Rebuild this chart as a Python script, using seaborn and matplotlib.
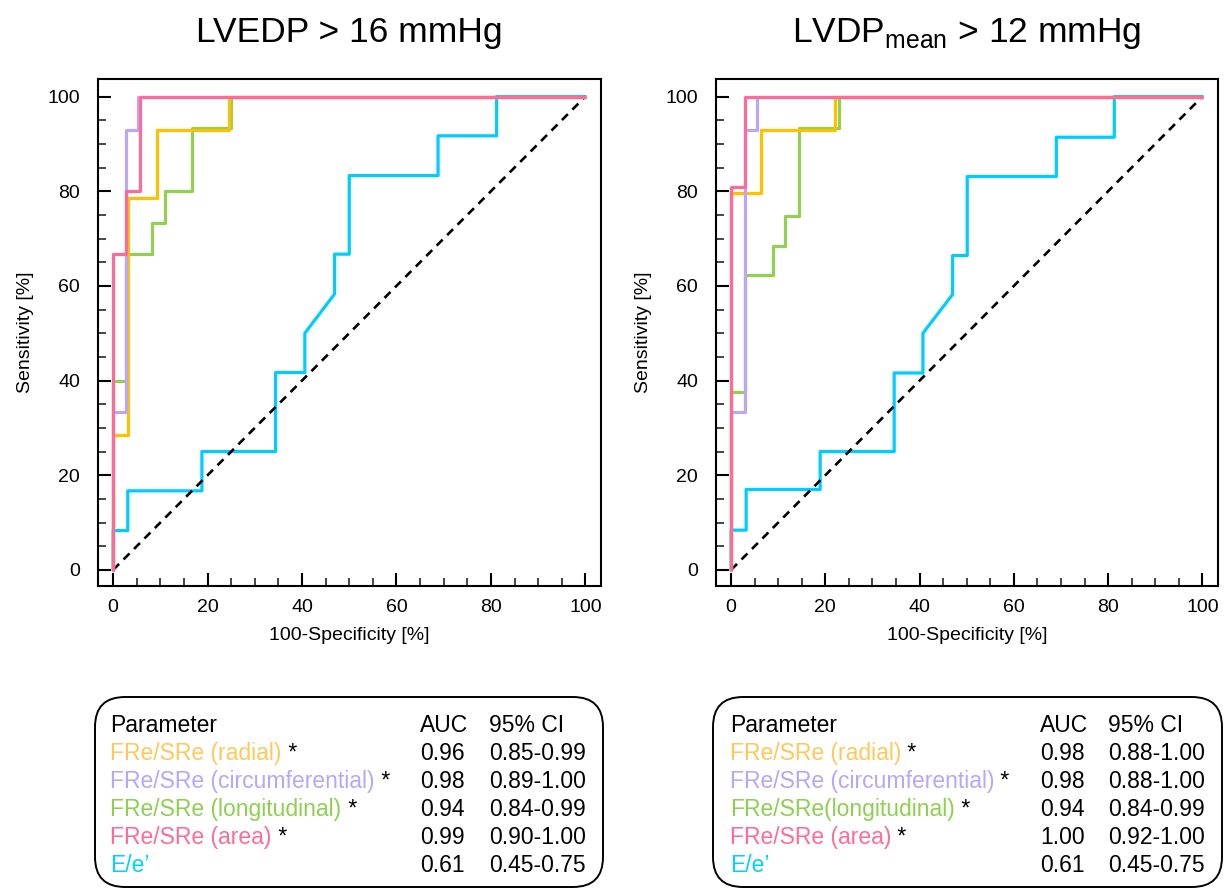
import matplotlib
matplotlib.use("Agg")
import matplotlib.pyplot as plt
import seaborn as sns
from matplotlib.patches import FancyBboxPatch

# ---------------- data ----------------
titles = ["LVEDP > 16 mmHg", r"LVDP$_\mathregular{mean}$ > 12 mmHg"]
xlabel = "100-Specificity [%]"
ylabel = "Sensitivity [%]"
major_ticks = [0, 20, 40, 60, 80, 100]

# Left panel (LVEDP > 16 mmHg): ROC vertices (100-specificity, sensitivity)
l_radial_x = [0, 0, 3.2, 3.2, 9.3, 9.3, 24.6, 24.6, 100]
l_radial_y = [0, 28.6, 28.6, 78.6, 78.6, 92.9, 92.9, 100, 100]
l_circ_x = [0, 0, 2.8, 2.8, 5.3, 5.3, 100]
l_circ_y = [0, 33.3, 33.3, 92.9, 92.9, 100, 100]
l_long_x = [0, 0, 2.7, 2.7, 8.3, 8.3, 11.0, 11.0, 16.8, 16.8, 25.0, 25.0, 100]
l_long_y = [0, 40.0, 40.0, 66.7, 66.7, 73.3, 73.3, 80.0, 80.0, 93.3, 93.3, 100, 100]
l_area_x = [0, 0, 2.8, 2.8, 5.6, 5.6, 100]
l_area_y = [0, 66.7, 66.7, 80.0, 80.0, 100, 100]
l_ee_x = [0, 0, 3.1, 3.1, 18.8, 18.8, 34.4, 34.4, 40.6, 40.6, 46.9, 46.9, 50.0, 50.0, 68.8, 68.8, 81.2, 81.2, 100]
l_ee_y = [0, 8.3, 8.3, 16.7, 16.7, 25.0, 25.0, 41.7, 41.7, 50.0, 58.3, 66.7, 66.7, 83.3, 83.3, 91.7, 91.7, 100, 100]

# Right panel (LVDPmean > 12 mmHg)
r_radial_x = [0, 0, 6.3, 6.3, 22.1, 22.1, 100]
r_radial_y = [0, 79.6, 79.6, 92.9, 92.9, 100, 100]
r_circ_x = [0, 0, 3.0, 3.0, 5.6, 5.6, 100]
r_circ_y = [0, 33.3, 33.3, 92.9, 92.9, 100, 100]
r_long_x = [0, 0, 3.0, 3.0, 8.8, 8.8, 11.5, 11.5, 14.4, 14.4, 22.9, 22.9, 100]
r_long_y = [0, 37.6, 37.6, 62.2, 62.2, 68.5, 68.5, 74.8, 74.8, 93.3, 93.3, 100, 100]
r_area_x = [0, 0, 3.0, 3.0, 100]
r_area_y = [0, 80.8, 80.8, 100, 100]
r_ee_x = [0, 0, 3.2, 3.2, 18.9, 18.9, 34.6, 34.6, 40.7, 40.7, 47.0, 47.0, 50.1, 50.1, 69.0, 69.0, 81.3, 81.3, 100]
r_ee_y = [0, 8.4, 8.4, 17.0, 17.0, 25.0, 25.0, 41.6, 41.6, 50.0, 58.2, 66.4, 66.4, 83.1, 83.1, 91.4, 91.4, 100, 100]

# Table contents
table_header = ["Parameter", "AUC", "95% CI"]
l_params = ["FRe/SRe (radial)", "FRe/SRe (circumferential)", "FRe/SRe (longitudinal)",
            "FRe/SRe (area)", "E/e\u2019"]
r_params = ["FRe/SRe (radial)", "FRe/SRe (circumferential)", "FRe/SRe(longitudinal)",
            "FRe/SRe (area)", "E/e\u2019"]
significant = [True, True, True, True, False]
l_auc = ["0.96", "0.98", "0.94", "0.99", "0.61"]
l_ci = ["0.85-0.99", "0.89-1.00", "0.84-0.99", "0.90-1.00", "0.45-0.75"]
r_auc = ["0.98", "0.98", "0.94", "1.00", "0.61"]
r_ci = ["0.88-1.00", "0.88-1.00", "0.84-0.99", "0.92-1.00", "0.45-0.75"]

# ---------------- style ----------------
c_radial = "#FFC000"
c_circ = "#BBA6F8"
c_long = "#92D050"
c_area = "#FF6B99"
c_ee = "#00CCFF"
text_colors = ["#FFC85A", "#B8A6F6", "#8DD04F", "#FF6B99", "#00D2FF"]

sns.set_theme(style="white")
plt.rcParams["font.family"] = ["Liberation Sans", "DejaVu Sans"]
plt.rcParams["mathtext.fontset"] = "custom"
plt.rcParams["mathtext.rm"] = "Liberation Sans"

fig = plt.figure(figsize=(12.28, 8.90), dpi=100)
W, H = 1228, 890

def px_axes(left, top, right, bottom):
    return fig.add_axes([left / W, 1 - bottom / H, (right - left) / W, (bottom - top) / H])

ax_l = px_axes(98, 79, 601, 586)
ax_r = px_axes(716, 79, 1218, 586)

panels = [
    (ax_l, titles[0], [(l_ee_x, l_ee_y, c_ee), (l_long_x, l_long_y, c_long),
                       (l_radial_x, l_radial_y, c_radial), (l_circ_x, l_circ_y, c_circ),
                       (l_area_x, l_area_y, c_area)]),
    (ax_r, titles[1], [(r_ee_x, r_ee_y, c_ee), (r_long_x, r_long_y, c_long),
                       (r_radial_x, r_radial_y, c_radial), (r_circ_x, r_circ_y, c_circ),
                       (r_area_x, r_area_y, c_area)]),
]

for ax, title, curves in panels:
    # reference diagonal
    sns.lineplot(x=[0, 100], y=[0, 100], ax=ax, color="black", linewidth=1.9,
                 linestyle=(0, (3.2, 2.4)), sort=False, estimator=None, zorder=3)
    for i, (xs, ys, col) in enumerate(curves):
        sns.lineplot(x=xs, y=ys, ax=ax, color=col, linewidth=2.3, sort=False,
                     estimator=None, zorder=2 if i == 0 else 4 + i)
    ax.set_xlim(-3.2, 103.3)
    ax.set_ylim(-3.4, 103.7)
    ax.set_xticks(major_ticks)
    ax.set_yticks(major_ticks)
    ax.set_xticks(range(0, 101, 5), minor=True)
    ax.set_yticks(range(0, 101, 5), minor=True)
    ax.tick_params(axis="both", which="major", direction="in", length=9.5, width=1.5,
                   labelsize=14, colors="black", bottom=True, left=True, top=False, right=False)
    ax.tick_params(axis="both", which="minor", direction="in", length=5.5, width=1.2,
                   bottom=True, left=True, top=False, right=False)
    ax.tick_params(axis="y", which="major", pad=13)
    ax.tick_params(axis="x", which="major", pad=9)
    for sp in ax.spines.values():
        sp.set_visible(True)
        sp.set_color("black")
        sp.set_linewidth(1.5)
    ax.set_xlabel(xlabel, fontsize=14, color="black")
    ax.set_ylabel(ylabel, fontsize=14, color="black")
    ax.xaxis.set_label_coords(0.5, -0.080)
    ax.yaxis.set_label_coords(-0.128, 0.5)
    ax.text(0.5, 1.0724, title, transform=ax.transAxes, ha="center", va="baseline",
            fontsize=25.5, color="black")
    ax.grid(False)

# ---------------- tables (overlay in pixel units) ----------------
ov = fig.add_axes([0, 0, 1, 1], zorder=10)
ov.set_xlim(0, W)
ov.set_ylim(H, 0)
ov.axis("off")
ov.patch.set_alpha(0)

tables = [
    (95, 603, 110.5, 420, 489, l_params, l_auc, l_ci),
    (713, 1222, 730, 1040, 1108, r_params, r_auc, r_ci),
]
fs = 16.5
row0 = 731.5
dy = 28.2
for (bx0, bx1, xp, xa, xc, params, aucs, cis) in tables:
    box = FancyBboxPatch((bx0, 697), bx1 - bx0, 190, boxstyle="round,pad=0,rounding_size=30",
                         facecolor="none", edgecolor="black", linewidth=1.4)
    ov.add_patch(box)
    ov.text(xp, row0, table_header[0], fontsize=fs, color="black", va="baseline", ha="left")
    ov.text(xa, row0, table_header[1], fontsize=fs, color="black", va="baseline", ha="left")
    ov.text(xc, row0, table_header[2], fontsize=fs, color="black", va="baseline", ha="left")
    for i, (p, a, c) in enumerate(zip(params, aucs, cis)):
        y = row0 + (i + 1) * dy
        t = ov.text(xp, y, p, fontsize=fs, color=text_colors[i], va="baseline", ha="left")
        if significant[i]:
            ov.annotate(" *", xy=(1, 0), xycoords=t, va="bottom", ha="left",
                        fontsize=fs, color="black")
        ov.text(xa, y, a, fontsize=fs, color="black", va="baseline", ha="left")
        ov.text(xc, y, c, fontsize=fs, color="black", va="baseline", ha="left")

fig.savefig("out.png", dpi=100, facecolor="white")
